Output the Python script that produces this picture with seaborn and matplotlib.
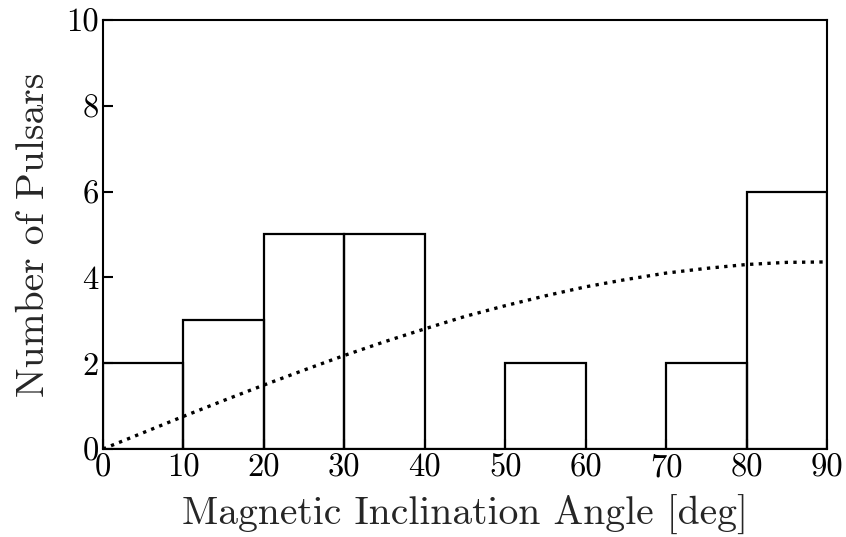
import numpy as np
import pandas as pd
import matplotlib
matplotlib.use("Agg")
import matplotlib.pyplot as plt
import seaborn as sns

# Histogram of magnetic inclination angles (10-degree bins)
bin_edges = [0, 10, 20, 30, 40, 50, 60, 70, 80, 90]
counts = [2, 3, 5, 5, 0, 2, 0, 2, 6]

# Expected counts for randomly oriented magnetic axes
curve_angle = [0, 5, 10, 15, 20, 25, 30, 35, 40, 45, 50, 55, 60, 65, 70, 75, 80, 85, 90]
curve_count = [0.00, 0.38, 0.76, 1.13, 1.49, 1.84, 2.18, 2.50, 2.80, 3.09,
               3.34, 3.57, 3.78, 3.95, 4.10, 4.21, 4.30, 4.35, 4.36]

xticks = [0, 10, 20, 30, 40, 50, 60, 70, 80, 90]
yticks = [0, 2, 4, 6, 8, 10]

sns.set_theme(style="ticks")
plt.rcParams["font.family"] = ["cmr10", "DejaVu Serif"]
plt.rcParams["mathtext.fontset"] = "cm"
plt.rcParams["axes.formatter.use_mathtext"] = True
plt.rcParams["axes.unicode_minus"] = False

fig = plt.figure(figsize=(8.46, 5.37), dpi=100)
ax = fig.add_axes([0.1217, 0.1639, 0.8558, 0.7989])

centers = [(a + b) / 2 for a, b in zip(bin_edges[:-1], bin_edges[1:])]
df = pd.DataFrame({"angle": centers, "n": counts})
sns.histplot(data=df, x="angle", weights="n", bins=bin_edges, fill=False,
             element="bars", color="black", linewidth=1.6, ax=ax)

sns.lineplot(x=curve_angle, y=curve_count, ax=ax, color="black",
             linestyle=(0, (1, 1.6)), linewidth=2.4)

ax.set_xlim(0, 90)
ax.set_ylim(0, 10)
ax.set_xticks(xticks)
ax.set_yticks(yticks)
ax.set_xticklabels([str(t) for t in xticks])
ax.set_yticklabels([str(t) for t in yticks])
ax.tick_params(direction="in", length=7, width=1.5, labelsize=23.5,
               colors="black", pad=3)
for s in ax.spines.values():
    s.set_linewidth(1.5)
    s.set_color("black")

ax.set_xlabel("Magnetic Inclination Angle [deg]", fontsize=28.5, labelpad=9)
ax.set_ylabel("Number of Pulsars", fontsize=28.5, labelpad=10)

fig.savefig("out.png", dpi=100)
